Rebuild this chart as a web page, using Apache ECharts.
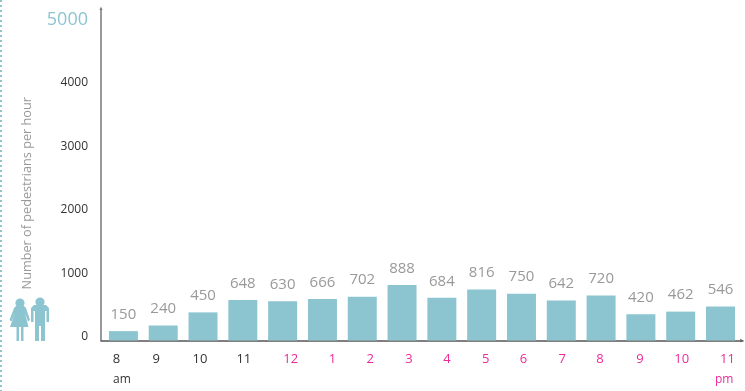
<!DOCTYPE html>
<html><head><meta charset="utf-8">
<style>html,body{margin:0;padding:0;background:#fff}#c{width:745px;height:391px}</style>
<script src="https://cdn.jsdelivr.net/npm/echarts@6/dist/echarts.min.js"></script>
</head><body><div id="c"></div>
<script>
const hours = ['8','9','10','11','12','1','2','3','4','5','6','7','8','9','10','11'];
const pedestrians = [150,240,450,648,630,666,702,888,684,816,750,642,720,420,462,546];
const yTicks = [0,1000,2000,3000,4000,5000];
const yTitle = 'Number of pedestrians per hour';
const FONT = '"Open Sans", sans-serif';
const TEAL = '#8cc5d0', PINK = '#ec2b9a';
const step = 39.8;
const labelShift = [-7,-7,-3,1,8,10,8,7,5,4,2,1,-1,-1,1,7].map(p => p / step);
const labelAt = hours.map((h, i) => i + labelShift[i]);
const womanBody = [[16,306],[24,306],[26,308],[30,320],[28,321.5],[25,313],[28.5,327],[23.5,327],[23.5,341],[21,341],[21,327],[19,327],[19,341],[16.5,341],[16.5,327],[10,327],[15,313],[11.5,321.5],[9.5,320],[14,308]];
const manBody = [[34,305],[46,305],[49,308],[49,322],[46.5,322],[46.5,311],[45,311],[45,341],[41,341],[41,326],[39,326],[39,341],[35,341],[35,311],[33.5,311],[33.5,322],[31,322],[31,308]];
const chart = echarts.init(document.getElementById('c'), null, {renderer:'canvas'});
chart.setOption({
  animation:false,
  backgroundColor:'#fff',
  textStyle:{fontFamily:FONT},
  grid:{left:101,right:2,top:8,bottom:50.5,containLabel:false},
  xAxis:{
    type:'value', min:-0.563, max:15.565,
    splitLine:{show:false},
    axisLine:{show:true,onZero:false,lineStyle:{color:'#555',width:1.5},symbol:['none','arrow'],symbolSize:[3,3]},
    axisTick:{show:false},
    axisLabel:{
      customValues:labelAt, margin:12, fontSize:13, fontFamily:FONT, hideOverlap:false,
      showMinLabel:true, showMaxLabel:true,
      formatter:v=>{
        const i=labelAt.findIndex(a=>Math.abs(a-v)<1e-6);
        return i<0?'':(i<4?'{am|'+hours[i]+'}':'{pm|'+hours[i]+'}');
      },
      rich:{am:{color:'#333',fontSize:13,fontFamily:FONT},pm:{color:PINK,fontSize:13,fontFamily:FONT}}
    }
  },
  yAxis:[{
    type:'value', min:0, max:5320,
    splitLine:{show:false},
    axisLine:{show:true,onZero:false,lineStyle:{color:'#777',width:1.5},symbol:['none','arrow'],symbolSize:[3,2]},
    axisTick:{show:false},
    axisLabel:{show:false},
    name:yTitle, nameLocation:'middle', nameRotate:90, nameGap:67,
    nameTextStyle:{color:'#999',fontSize:12.7,fontFamily:FONT,padding:[0,38,0,0]}
  },{
    type:'value', position:'left', min:0, max:5236,
    splitLine:{show:false}, axisLine:{show:false}, axisTick:{show:false},
    axisLabel:{
      customValues:yTicks, margin:13, showMaxLabel:true, fontFamily:FONT,
      formatter:v=>v===5000?'{top|'+v+'}':'{n|'+v+'}',
      rich:{
        n:{color:'#333',fontSize:12,fontFamily:FONT,padding:[0,0,7,0]},
        top:{color:TEAL,fontSize:18,fontFamily:FONT,padding:[0,0,7,0]}
      }
    }
  }],
  series:[{
    type:'bar', barWidth:29, itemStyle:{color:TEAL}, yAxisIndex:0,
    data:pedestrians.map((v,i)=>[i,v]),
    label:{show:true,position:'top',distance:9,color:'#999',fontSize:15,fontFamily:FONT,
      formatter:p=>String(p.value[1])}
  }],
  graphic:[
    {type:'line',shape:{x1:1,y1:0,x2:1,y2:391},style:{stroke:TEAL,lineWidth:2,lineDash:[2,3]}},
    {type:'circle',shape:{cx:20,cy:303,r:4.6},style:{fill:TEAL},silent:true},
    {type:'circle',shape:{cx:40,cy:302,r:4.6},style:{fill:TEAL},silent:true},
    {type:'polygon',shape:{points:womanBody},style:{fill:TEAL},silent:true},
    {type:'polygon',shape:{points:manBody},style:{fill:TEAL},silent:true},
    {type:'text',x:113,y:374,style:{text:'am',fill:'#333',fontSize:12,fontFamily:FONT}},
    {type:'text',x:715,y:374,style:{text:'pm',fill:PINK,fontSize:12,fontFamily:FONT}}
  ]
});
</script></body></html>
